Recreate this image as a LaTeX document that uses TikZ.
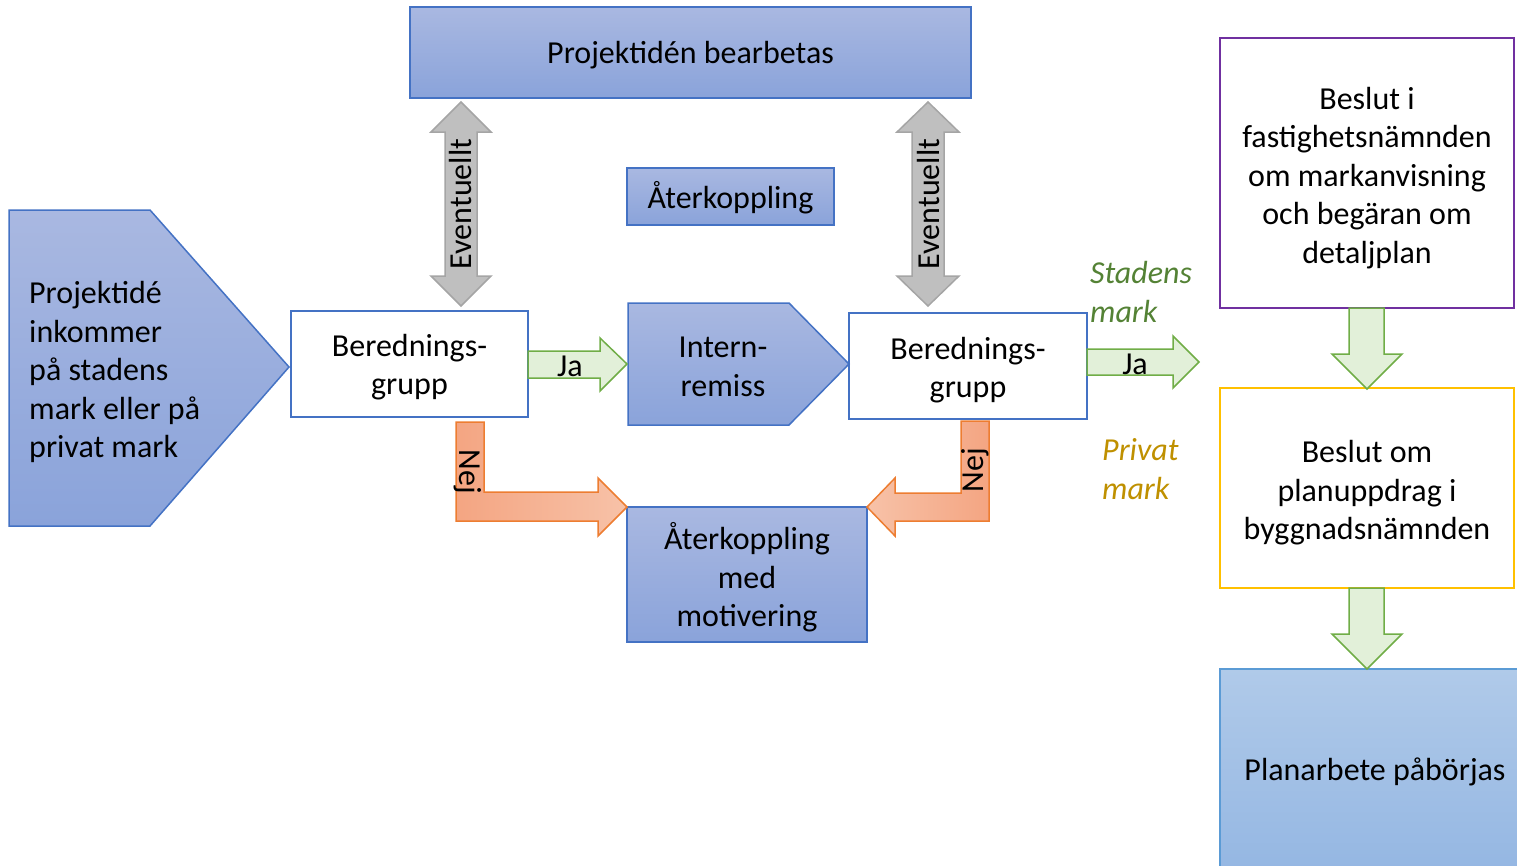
\documentclass[tikz,border=0pt]{standalone}
\usepackage{fontspec}
\setmainfont{Carlito}
\definecolor{bluetop}{HTML}{A9B8E1}
\definecolor{bluebot}{HTML}{8AA3DA}
\definecolor{blueline}{HTML}{4472C4}
\definecolor{grayfill}{HTML}{BFBFBF}
\definecolor{grayline}{HTML}{A5A5A5}
\definecolor{greenfill}{HTML}{E2F0D9}
\definecolor{greenline}{HTML}{70AD47}
\definecolor{ordark}{HTML}{F4A582}
\definecolor{orlight}{HTML}{F7C2A8}
\definecolor{orline}{HTML}{ED7D31}
\definecolor{purp}{HTML}{7030A0}
\definecolor{goldline}{HTML}{FFC000}
\definecolor{stadens}{HTML}{548235}
\definecolor{privat}{HTML}{BF9000}
\definecolor{plantop}{HTML}{B0CAE9}
\definecolor{planbot}{HTML}{92B5E2}
\definecolor{planline}{HTML}{5B9BD5}
\begin{document}
\begin{tikzpicture}[x=1pt,y=-1pt,
  txt/.style={font=\fontsize{32}{38.5}\selectfont, align=center, text=black, inner sep=0pt, yshift=-3pt},
  arrtxt/.style={font=\fontsize{32}{38}\selectfont, text=black, inner sep=0pt},
  bluebox/.style={draw=blueline, line width=1.5pt, top color=bluetop, bottom color=bluebot, inner sep=0pt},
  whitebox/.style={draw=blueline, line width=2.5pt, fill=white, inner sep=0pt},
  grayarrow/.style={draw=grayline, line width=1.5pt, fill=grayfill, line join=miter},
  greenarrow/.style={draw=greenline, line width=1.5pt, fill=greenfill, line join=miter},
  orangearrow/.style={draw=orline, line width=1.5pt, line join=miter},
  marktxt/.style={font=\fontsize{32}{38.5}\selectfont\itshape, align=left, inner sep=0pt}
]
\useasboundingbox (0,0) rectangle (1517,865);
\clip (0,0) rectangle (1517,865);

% ---- left pentagon
\draw[blueline, line width=1.5pt, top color=bluetop, bottom color=bluebot]
  (9,210) -- (150,210) -- (289,367) -- (150,526) -- (9,526) -- cycle;
\node[txt, align=left, anchor=west] (idea) at (29,369)
  {Projektidé\\inkommer\\på stadens\\mark eller på\\privat mark};

% ---- top box
\node[bluebox, minimum width=561pt, minimum height=91pt] (top) at (690.5,52.5) {};
\node[txt] (toptxt) at (top.center) {Projektidén bearbetas};

% ---- small feedback box
\node[bluebox, minimum width=207pt, minimum height=57pt] (fb) at (730.5,196.5) {};
\node[txt] (fbtxt) at (730.5,194.5) {Återkoppling};

% ---- beredningsgrupp boxes
\node[whitebox, minimum width=237pt, minimum height=106pt] (bg1) at (409.5,364) {};
\node[txt] (bg1txt) at (bg1.center) {Berednings-\\grupp};
\node[whitebox, minimum width=238pt, minimum height=106pt] (bg2) at (968,366) {};
\node[txt] (bg2txt) at (968,367) {Berednings-\\grupp};

% ---- internremiss pentagon
\draw[blueline, line width=1.5pt, top color=bluetop, bottom color=bluebot]
  (628,303) -- (789,303) -- (849,364) -- (789,425) -- (628,425) -- cycle;
\node[txt] (intern) at (723,364) {Intern-\\remiss};

% ---- feedback with motivation
\node[bluebox, minimum width=240pt, minimum height=135pt] (fbm) at (747,574.5) {};
\node[txt] (fbmtxt) at (fbm.center) {Återkoppling\\med\\motivering};

% ---- right column
\node[draw=purp, line width=2.5pt, fill=white, inner sep=0pt, minimum width=294pt, minimum height=270pt] (fast) at (1367,173) {};
\node[txt] (fasttxt) at (1367,175)
  {Beslut i\\fastighetsnämnden\\om markanvisning\\och begäran om\\detaljplan};
\node[draw=goldline, line width=2.5pt, fill=white, inner sep=0pt, minimum width=294pt, minimum height=200pt] (bygg) at (1367,488) {};
\node[txt] (byggtxt) at (1367,490)
  {Beslut om\\planuppdrag i\\byggnadsnämnden};
\draw[planline, line width=1.5pt, top color=plantop, bottom color=planbot] (1220,669) rectangle (1540,890);
\node[txt] (plan) at (1375,769) {Planarbete påbörjas};

% ---- Eventuellt double arrows
\draw[grayarrow] (461,102) -- (491,132) -- (477,132) -- (477,276) -- (491,276) -- (461,306)
  -- (431,276) -- (445,276) -- (445,132) -- (431,132) -- cycle;
\node[arrtxt, rotate=90] (ev1) at (461,204) {Eventuellt};
\draw[grayarrow] (928,102) -- (959,132) -- (944,132) -- (944,276) -- (959,276) -- (928,306)
  -- (897,276) -- (912,276) -- (912,132) -- (897,132) -- cycle;
\node[arrtxt, rotate=90] (ev2) at (928,204) {Eventuellt};

% ---- Ja arrows
\draw[greenarrow] (528,351) -- (600,351) -- (600,338) -- (627,364) -- (600,391) -- (600,378) -- (528,378) -- cycle;
\node[arrtxt] (ja1) at (570,366) {Ja};
\draw[greenarrow] (1087,349) -- (1173,349) -- (1173,336) -- (1199,362) -- (1173,388) -- (1173,375) -- (1087,375) -- cycle;
\node[arrtxt] (ja2) at (1135,364) {Ja};

% ---- Nej arrows
\draw[orangearrow, left color=ordark, right color=orlight]
  (456,422) -- (484,422) -- (484,492) -- (598,492) -- (598,478) -- (627,507) -- (598,536) -- (598,521) -- (456,521) -- cycle;
\node[arrtxt, rotate=-90] (nej1) at (468,472) {Nej};
\draw[orangearrow, left color=orlight, right color=ordark]
  (961,421) -- (989,421) -- (989,521) -- (895,521) -- (895,536) -- (867,507) -- (895,478) -- (895,493) -- (961,493) -- cycle;
\node[arrtxt, rotate=90] (nej2) at (975,470) {Nej};

% ---- green down arrows
\draw[greenarrow] (1349,308) -- (1384,308) -- (1384,354) -- (1402,354) -- (1367,389) -- (1332,354) -- (1349,354) -- cycle;
\draw[greenarrow] (1349,588) -- (1384,588) -- (1384,634) -- (1402,634) -- (1367,669) -- (1332,634) -- (1349,634) -- cycle;

% ---- mark labels
\node[marktxt, text=stadens, anchor=west] (stad) at (1090,292) {Stadens\\mark};
\node[marktxt, text=privat, anchor=west] (priv) at (1102,469) {Privat\\mark};
\end{tikzpicture}
\end{document}
